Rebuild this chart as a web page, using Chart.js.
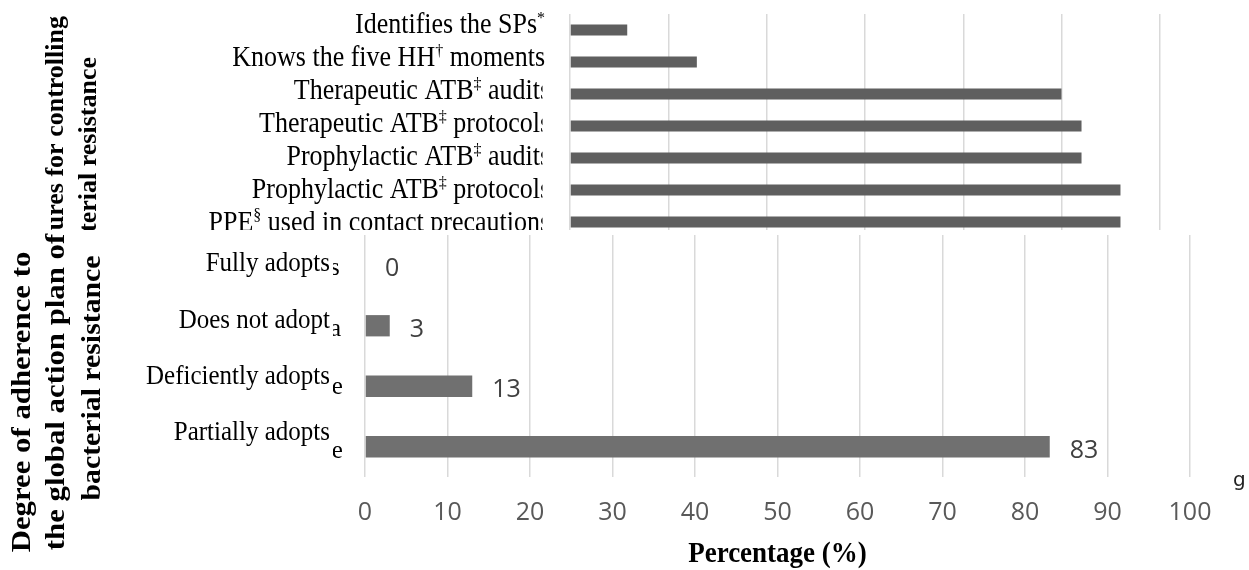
<!DOCTYPE html>
<html lang="en">
<head>
  <meta charset="UTF-8">
  <title>Bacterial resistance chart</title>
  <style>
    body { margin: 0; background: #fff; }
    #wrap { position: relative; width: 1249px; height: 570px; overflow: hidden; background: #fff; }
    #topChart { position: absolute; left: 0; top: 0; }
    #bottomBox { position: absolute; left: 0; top: 230px; width: 1249px; height: 340px; background: #fff; }
  </style>
</head>
<body>
  <div id="wrap">
    <canvas id="topChart" width="1249" height="240"></canvas>
    <div id="bottomBox"><canvas id="bottomChart" width="1249" height="340"></canvas></div>
  </div>

  <script src="https://cdn.jsdelivr.net/npm/chart.js"></script>

  <script>
    // measures for controlling bacterial resistance (top block)
    const measureLabels = [
      'Identifies the SPs*',
      'Knows the five HH† moments',
      'Therapeutic ATB‡ audits',
      'Therapeutic ATB‡ protocols',
      'Prophylactic ATB‡ audits',
      'Prophylactic ATB‡ protocols',
      'PPE§ used in contact precautions'
    ];
    const measureValues = [9.7, 21.5, 83.3, 86.7, 86.7, 93.3, 93.3];
    const measureTitle = ['Measures for controlling', 'bacterial resistance'];

    // adherence to the global action plan (bottom block)
    const adherenceLabels = ['Fully adopts', 'Does not adopt', 'Deficiently adopts', 'Partially adopts'];
    const adherenceValues = [0, 3, 13, 83];
    const adherenceTitle = ['Degree of adherence to', 'the global action plan of', 'bacterial resistance'];
    const axisTitle = 'Percentage (%)';

    const serif = '"Liberation Serif", "Times New Roman", serif';
    const sans = '"Open Sans", "Noto Sans", sans-serif';
    const supMarks = '*†‡§';

    // right aligned text with the footnote marks raised, stretched a bit in height
    function drawRich(ctx, text, xRight, y, size, stretch) {
      const parts = [];
      for (const ch of text) {
        const sup = supMarks.includes(ch);
        const last = parts[parts.length - 1];
        if (last && last.sup === sup) last.t += ch;
        else parts.push({ t: ch, sup: sup });
      }
      let total = 0;
      parts.forEach(p => {
        ctx.font = (p.sup ? Math.round(size * 0.62) : size) + 'px ' + serif;
        p.w = ctx.measureText(p.t).width;
        total += p.w;
      });
      ctx.save();
      ctx.translate(0, y);
      ctx.scale(1, stretch);
      let x = xRight - total;
      parts.forEach(p => {
        ctx.font = (p.sup ? Math.round(size * 0.62) : size) + 'px ' + serif;
        ctx.fillText(p.t, x, p.sup ? -size * 0.36 : 0);
        x += p.w;
      });
      ctx.restore();
    }

    // text reading upwards; stretch lengthens it along the page height
    function vText(ctx, text, x, y, align, stretch, maxW) {
      ctx.save();
      ctx.translate(x, y);
      ctx.scale(1, stretch);
      ctx.rotate(-Math.PI / 2);
      ctx.textAlign = align;
      ctx.textBaseline = 'alphabetic';
      if (maxW) ctx.fillText(text, 0, 0, maxW);
      else ctx.fillText(text, 0, 0);
      ctx.restore();
    }

    const topLabelsPlugin = {
      id: 'topLabels',
      afterDraw(chart) {
        const ctx = chart.ctx;
        const yScale = chart.scales.y;
        const c0 = yScale.getPixelForValue(0);
        const cut = [false, false, true, true, true, true, true];
        ctx.save();
        ctx.fillStyle = '#000';
        ctx.textAlign = 'left';
        ctx.textBaseline = 'alphabetic';
        measureLabels.forEach((lab, i) => {
          const y = c0 + 3 + (yScale.getPixelForValue(i) - c0) * 1.03;
          if (cut[i]) {
            ctx.font = '26px ' + serif;
            const lastW = ctx.measureText(lab.slice(-1)).width;
            ctx.save();
            ctx.beginPath();
            ctx.rect(0, 0, 542.5, chart.height);
            ctx.clip();
            drawRich(ctx, lab, 540 + lastW, y, 26, 1.1);
            ctx.restore();
          } else {
            drawRich(ctx, lab, 545, y, 26, 1.1);
          }
        });
        ctx.font = 'bold 26px ' + serif;
        vText(ctx, measureTitle[0], 63, 16, 'right', 1);
        vText(ctx, measureTitle[1], 96, 57, 'right', 1);
        ctx.restore();
      }
    };

    const bottomLabelsPlugin = {
      id: 'bottomLabels',
      afterDraw(chart) {
        const ctx = chart.ctx;
        const yScale = chart.scales.y;
        const xScale = chart.scales.x;
        const c0 = yScale.getPixelForValue(0);
        const frag = [{ ch: 's', dy: 4 }, { ch: 'a', dy: 8 }, { ch: 'e', dy: 10 }, { ch: 'e', dy: 18 }];
        ctx.save();
        ctx.fillStyle = '#000';
        ctx.textBaseline = 'alphabetic';
        adherenceLabels.forEach((lab, i) => {
          const y = c0 + 6.2 + (yScale.getPixelForValue(i) - c0) * 0.93;
          ctx.font = '25px ' + serif;
          ctx.textAlign = 'right';
          ctx.save();
          ctx.translate(0, y);
          ctx.scale(1, 1.06);
          ctx.fillText(lab, 330, 0);
          ctx.restore();
          ctx.save();
          ctx.beginPath();
          ctx.rect(333, 0, 14, chart.height);
          ctx.clip();
          ctx.textAlign = 'left';
          ctx.fillText(frag[i].ch, i < 2 ? 330 : 331.7, y + frag[i].dy);
          ctx.restore();
        });

        // value labels beside the bars
        const meta = chart.getDatasetMeta(0);
        ctx.font = '25px ' + sans;
        ctx.fillStyle = '#404040';
        ctx.textAlign = 'left';
        meta.data.forEach((bar, i) => {
          ctx.fillText(String(adherenceValues[i]), bar.x + 20, bar.y + 11);
        });

        // axis title and the left titles (canvas starts 230px down the page)
        ctx.fillStyle = '#000';
        ctx.font = 'bold 27px ' + serif;
        ctx.textAlign = 'center';
        ctx.save();
        ctx.translate((xScale.left + xScale.right) / 2, 331.7);
        ctx.scale(1, 1.1);
        ctx.fillText(axisTitle, 0, 0, 183);
        ctx.restore();
        ctx.font = 'bold 27px ' + serif;
        vText(ctx, adherenceTitle[0], 30, 172, 'center', 1.14);
        vText(ctx, adherenceTitle[1], 64, 162, 'center', 1.14);
        vText(ctx, adherenceTitle[2], 100, 148, 'center', 1.14, 215);

        // stray glyph at the right edge of the figure
        ctx.font = '20px "DejaVu Sans", sans-serif';
        ctx.fillStyle = '#222';
        ctx.textAlign = 'left';
        ctx.fillText('g', 1233, 256);
        ctx.restore();
      }
    };

    new Chart(document.getElementById('topChart'), {
      type: 'bar',
      data: {
        labels: measureLabels,
        datasets: [{
          data: measureValues,
          backgroundColor: '#5f5f5f',
          barPercentage: 0.344,
          categoryPercentage: 1
        }]
      },
      options: {
        indexAxis: 'y',
        responsive: false,
        animation: false,
        layout: { padding: { left: 570, right: 89, top: 14, bottom: 2 } },
        plugins: { legend: { display: false }, tooltip: { enabled: false } },
        scales: {
          x: {
            min: 0,
            max: 100,
            ticks: { display: false, count: 7 },
            grid: { color: '#d9d9d9', lineWidth: 1.5, drawTicks: false },
            border: { display: false }
          },
          y: { display: false }
        }
      },
      plugins: [topLabelsPlugin]
    });

    new Chart(document.getElementById('bottomChart'), {
      type: 'bar',
      data: {
        labels: adherenceLabels,
        datasets: [{
          data: adherenceValues,
          backgroundColor: '#707070',
          barPercentage: 0.352,
          categoryPercentage: 1
        }]
      },
      options: {
        indexAxis: 'y',
        responsive: false,
        animation: false,
        layout: { padding: { left: 365, right: 59, top: 5, bottom: 0 } },
        plugins: { legend: { display: false }, tooltip: { enabled: false } },
        scales: {
          x: {
            min: 0,
            max: 100,
            afterFit: (s) => { s.height = 93; },
            ticks: {
              stepSize: 10,
              padding: 21,
              color: '#595959',
              font: { family: sans, size: 25 }
            },
            grid: { color: '#d9d9d9', lineWidth: 1.5, drawTicks: false },
            border: { display: false }
          },
          y: { display: false }
        }
      },
      plugins: [bottomLabelsPlugin]
    });
  </script>
</body>
</html>
